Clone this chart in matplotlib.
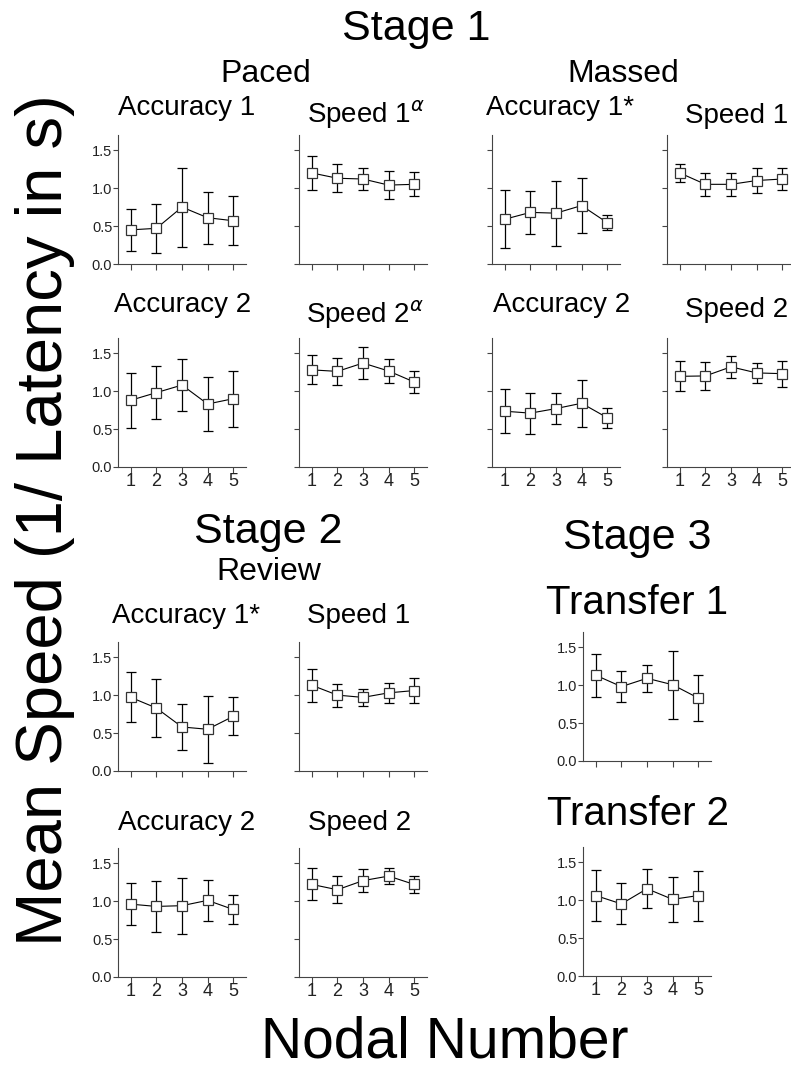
import matplotlib
matplotlib.use('Agg')
import matplotlib.pyplot as plt

plt.rcParams['font.family'] = ['Liberation Sans', 'DejaVu Sans']
plt.rcParams['mathtext.fontset'] = 'dejavusans'

W, H = 791, 1069

nodes = [1, 2, 3, 4, 5]
yticks = [0.0, 0.5, 1.0, 1.5]

# Stage 1 - paced
paced_acc1 = [0.45, 0.47, 0.75, 0.61, 0.57]
paced_acc1_err = [0.28, 0.32, 0.52, 0.34, 0.32]
paced_spd1 = [1.20, 1.13, 1.12, 1.04, 1.05]
paced_spd1_err = [0.22, 0.185, 0.14, 0.18, 0.16]
paced_acc2 = [0.88, 0.98, 1.08, 0.83, 0.90]
paced_acc2_err = [0.36, 0.35, 0.34, 0.355, 0.37]
paced_spd2 = [1.28, 1.26, 1.37, 1.265, 1.12]
paced_spd2_err = [0.19, 0.175, 0.21, 0.16, 0.14]

# Stage 1 - massed
massed_acc1 = [0.59, 0.68, 0.67, 0.77, 0.545]
massed_acc1_err = [0.38, 0.28, 0.43, 0.36, 0.10]
massed_spd1 = [1.20, 1.05, 1.05, 1.10, 1.12]
massed_spd1_err = [0.12, 0.15, 0.15, 0.16, 0.15]
massed_acc2 = [0.735, 0.71, 0.77, 0.84, 0.65]
massed_acc2_err = [0.29, 0.27, 0.20, 0.31, 0.13]
massed_spd2 = [1.195, 1.20, 1.32, 1.24, 1.23]
massed_spd2_err = [0.20, 0.18, 0.145, 0.13, 0.17]

# Stage 2 - review
review_acc1 = [0.97, 0.83, 0.58, 0.55, 0.72]
review_acc1_err = [0.33, 0.38, 0.30, 0.44, 0.25]
review_spd1 = [1.13, 1.00, 0.97, 1.03, 1.06]
review_spd1_err = [0.215, 0.15, 0.11, 0.13, 0.165]
review_acc2 = [0.96, 0.93, 0.94, 1.01, 0.89]
review_acc2_err = [0.28, 0.34, 0.37, 0.27, 0.19]
review_spd2 = [1.22, 1.15, 1.27, 1.33, 1.22]
review_spd2_err = [0.21, 0.175, 0.155, 0.10, 0.115]

# Stage 3 - transfer
transfer1 = [1.13, 0.98, 1.09, 1.005, 0.83]
transfer1_err = [0.28, 0.20, 0.18, 0.45, 0.30]
transfer2 = [1.06, 0.95, 1.15, 1.01, 1.06]
transfer2_err = [0.34, 0.27, 0.26, 0.30, 0.33]

# (title, values, errors, left px, zero-line px, title x, title baseline, ylabels, xlabels)
panels = [
    ('Accuracy 1', paced_acc1, paced_acc1_err, 118, 264, 187, 115, True, False),
    (r'Speed 1$^{\alpha}$', paced_spd1, paced_spd1_err, 299, 264, 366, 123, False, False),
    ('Accuracy 1*', massed_acc1, massed_acc1_err, 492, 264, 560, 115, False, False),
    ('Speed 1', massed_spd1, massed_spd1_err, 667, 264, 737, 123, False, False),
    ('Accuracy 2', paced_acc2, paced_acc2_err, 118, 467, 183, 312, True, True),
    (r'Speed 2$^{\alpha}$', paced_spd2, paced_spd2_err, 299, 467, 365, 323, False, True),
    ('Accuracy 2', massed_acc2, massed_acc2_err, 492, 467, 562, 312, False, True),
    ('Speed 2', massed_spd2, massed_spd2_err, 667, 467, 737, 317, False, True),
    ('Accuracy 1*', review_acc1, review_acc1_err, 118, 771, 186, 623, True, False),
    ('Speed 1', review_spd1, review_spd1_err, 299, 771, 359, 623, False, False),
    ('Accuracy 2', review_acc2, review_acc2_err, 118, 977, 187, 830, True, True),
    ('Speed 2', review_spd2, review_spd2_err, 299, 977, 360, 830, False, True),
    ('Transfer 1', transfer1, transfer1_err, 583, 761, 637, 614, True, False),
    ('Transfer 2', transfer2, transfer2_err, 583, 976, 638, 825, True, True),
]

AX_W, AX_H = 128, 129


def fx(x):
    return x / W


def fy(y):
    return 1 - y / H


fig = plt.figure(figsize=(W / 100, H / 100), dpi=100)

for title, vals, errs, left, zero, tx, ty, ylab, xlab in panels:
    ax = fig.add_axes([fx(left), fy(zero), AX_W / W, AX_H / H])
    ax.errorbar(nodes, vals, yerr=errs, color='black', lw=0.8,
                marker='s', ms=6.8, mfc='white', mec='#333333', mew=0.9,
                ecolor='black', elinewidth=0.9, capsize=3.6, capthick=1.4)
    ax.set_xlim(0.5, 5.5)
    ax.set_ylim(0, 1.7)
    ax.set_xticks(nodes)
    ax.set_yticks(yticks)
    for side in ['top', 'right']:
        ax.spines[side].set_visible(False)
    for side in ['left', 'bottom']:
        ax.spines[side].set_color('#444444')
        ax.spines[side].set_linewidth(0.8)
    ax.tick_params(axis='y', direction='out', length=3.6, width=0.8,
                   color='#444444', pad=0.5, labelsize=10.5, labelcolor='#222222')
    ax.tick_params(axis='x', direction='out', length=4.3, width=0.8,
                   color='#444444', pad=0, labelsize=13, labelcolor='#222222')
    if ylab:
        ax.set_yticklabels(['%.1f' % t for t in yticks])
    else:
        ax.set_yticklabels([])
    if not xlab:
        ax.set_xticklabels([])
    size = 29 if title.startswith('Transfer') else 20
    fig.text(fx(tx), fy(ty), title, ha='center', va='baseline', fontsize=size)

# section headers
fig.text(fx(416), fy(40), 'Stage 1', ha='center', va='baseline', fontsize=31)
fig.text(fx(266), fy(82), 'Paced', ha='center', va='baseline', fontsize=23)
fig.text(fx(623), fy(82), 'Massed', ha='center', va='baseline', fontsize=23)
fig.text(fx(268), fy(543), 'Stage 2', ha='center', va='baseline', fontsize=31)
fig.text(fx(269), fy(580), 'Review', ha='center', va='baseline', fontsize=23)
fig.text(fx(637), fy(549), 'Stage 3', ha='center', va='baseline', fontsize=31)

fig.text(fx(45), fy(520), 'Mean Speed (1/ Latency in s)', rotation=90,
         ha='center', va='center', fontsize=47)
fig.text(fx(445), fy(1058), 'Nodal Number', ha='center', va='baseline', fontsize=41)

fig.savefig('out.png', dpi=100)
